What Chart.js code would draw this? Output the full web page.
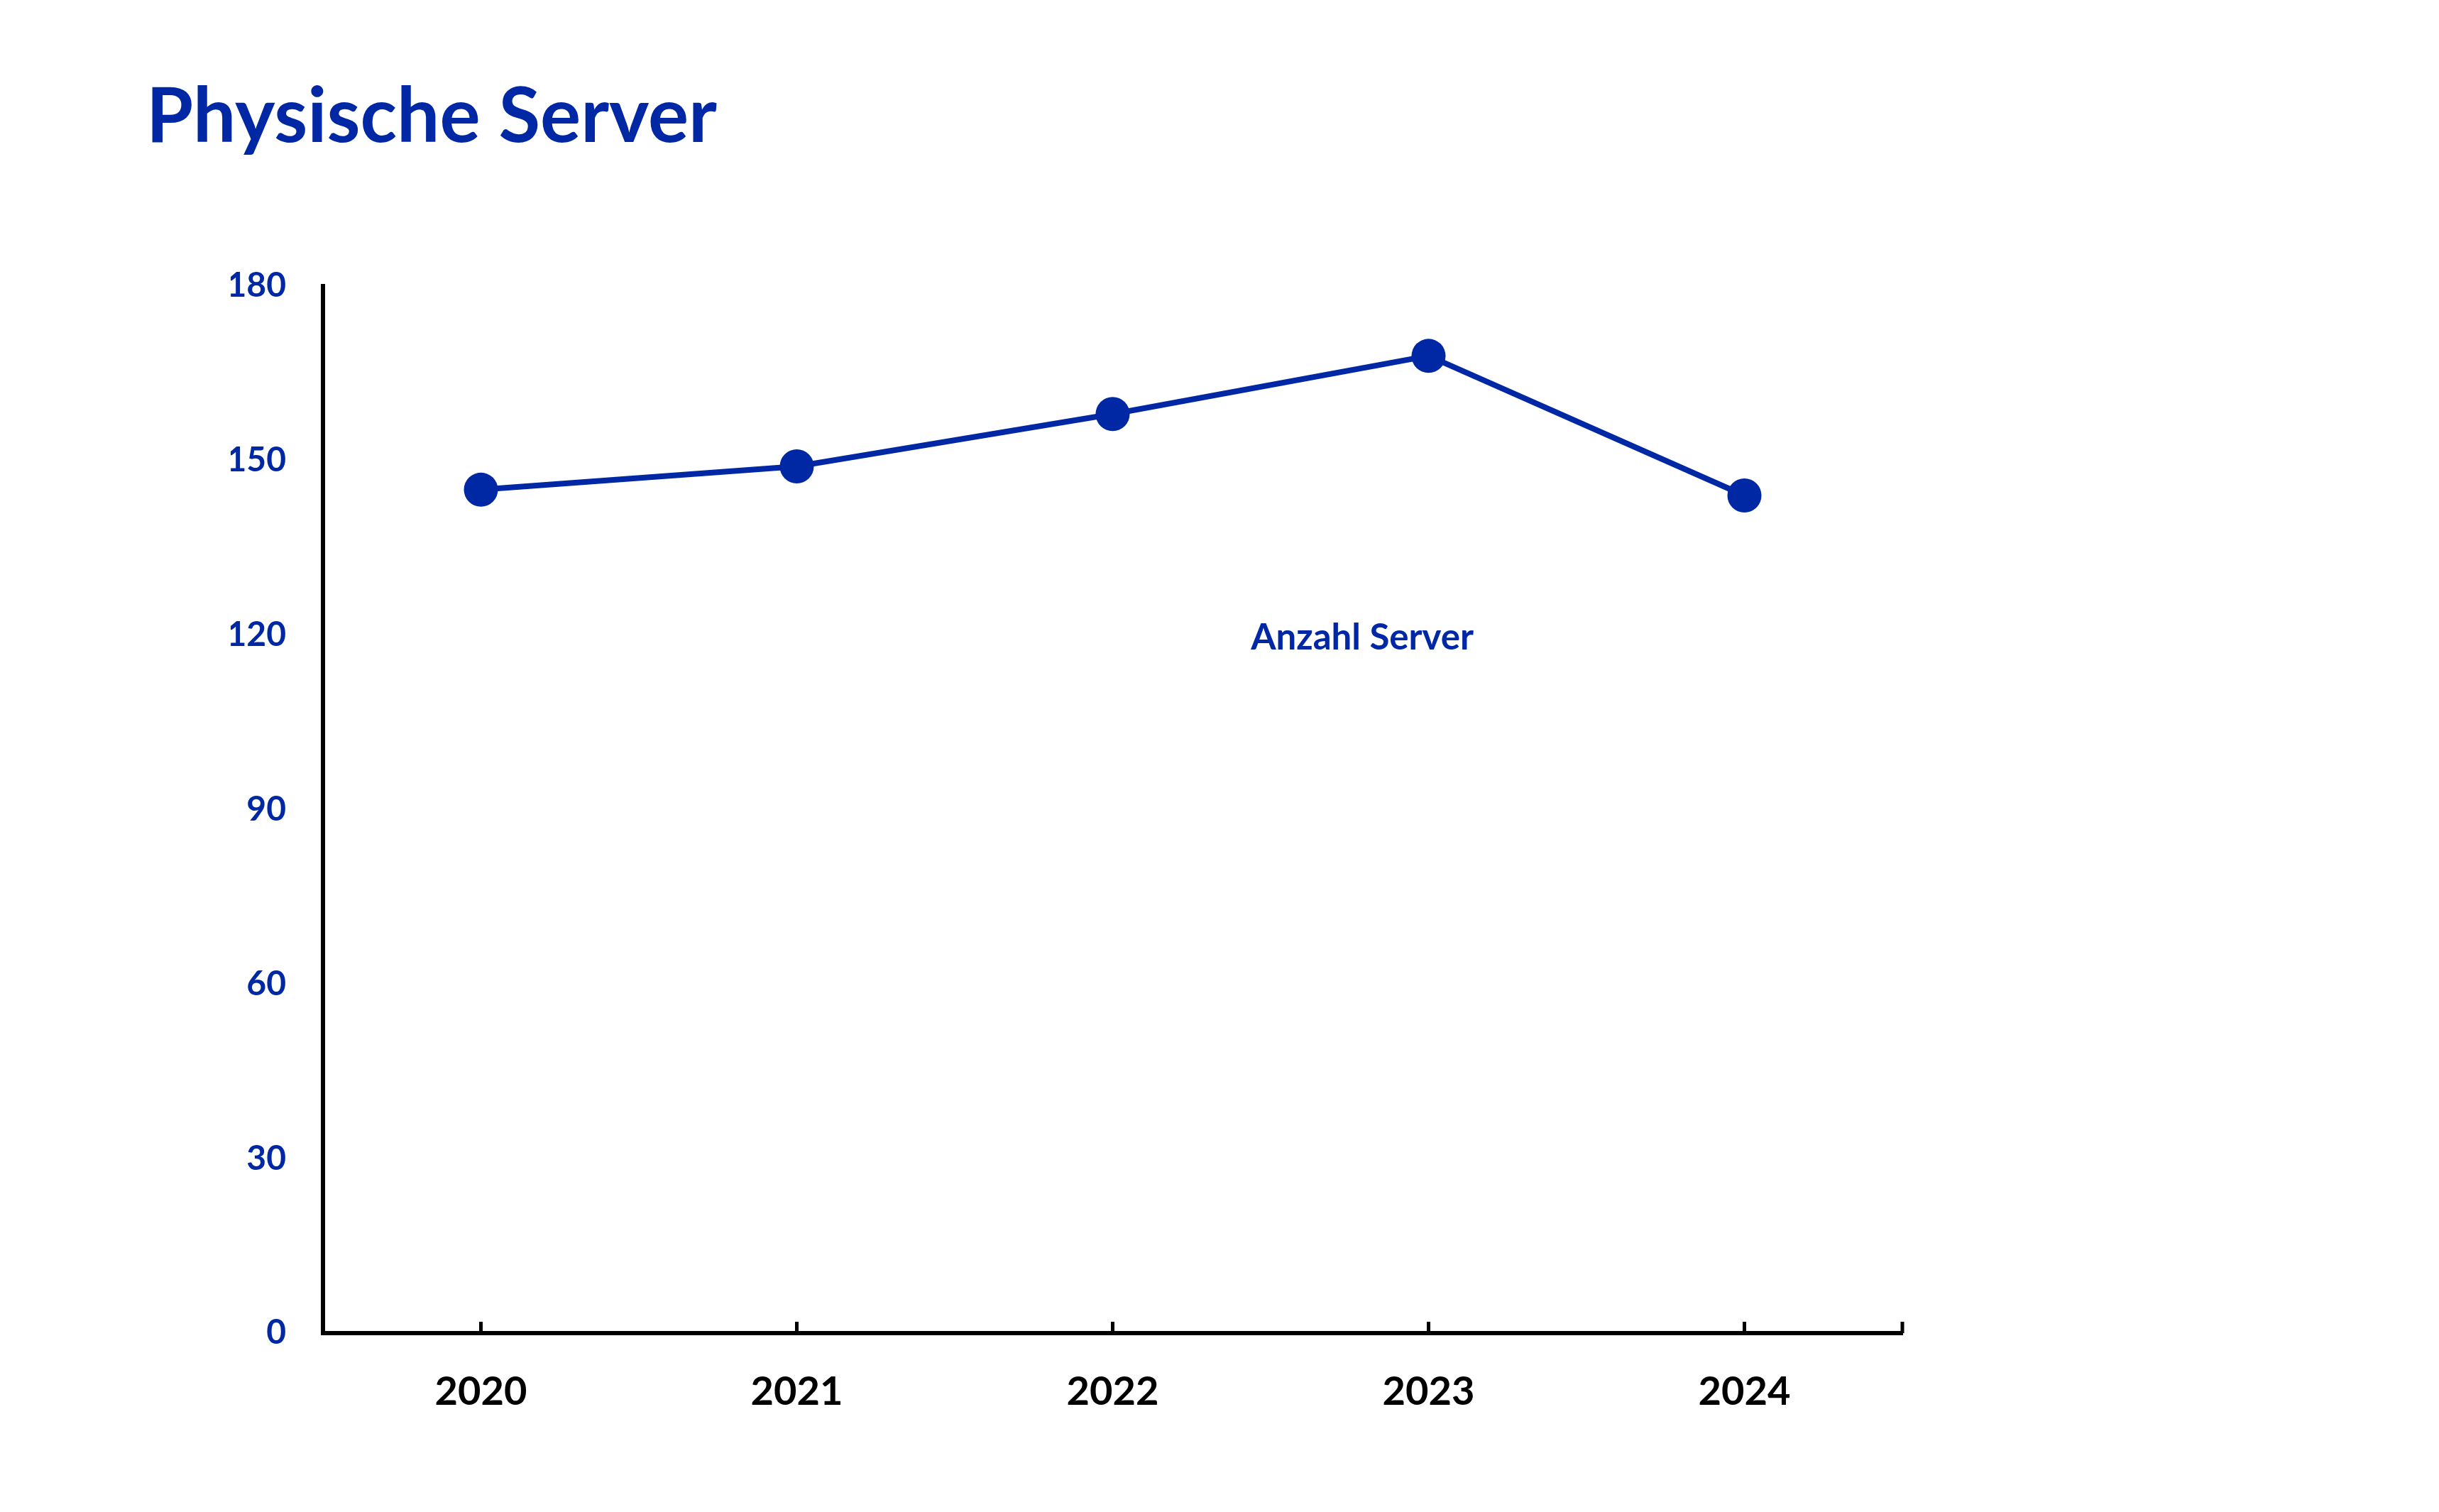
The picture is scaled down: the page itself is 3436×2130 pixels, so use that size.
<!DOCTYPE html>
<html>
<head>
<meta charset="utf-8">
<script src="https://cdn.jsdelivr.net/npm/chart.js@4.4.1/dist/chart.umd.min.js"></script>
<style>
    html, body { margin: 0; padding: 0; background: #fff; }
    #wrap { position: relative; width: 3436px; height: 2130px; }
    #title {
        position: absolute; left: 206px; top: 95px; margin: 0;
        font-family: Lato, sans-serif; font-weight: bold; font-size: 107px;
        line-height: 1.2; color: #0028A5;
    }
    #serverChart { position: absolute; left: 0; top: 0; }
</style>
</head>
<body>
<div id="wrap">
    <h1 id="title">Physische Server</h1>
    <canvas id="serverChart" width="3436" height="2130"></canvas>
</div>
<script>
const years = ['2020', '2021', '2022', '2023', '2024'];
const serverCounts = [145, 149, 158, 168, 144];
const seriesName = 'Anzahl Server';
const yTicks = [0, 30, 60, 90, 120, 150, 180];

const blue = '#0028A5';

// small upward tick marks on the x axis, like the original
const innerTicks = {
    id: 'innerTicks',
    afterDraw(chart) {
        let ctx = chart.ctx;
        let x = chart.scales.x;
        let area = chart.chartArea;
        let positions = x.ticks.map((t, i) => x.getPixelForTick(i));
        positions.push(area.right);
        ctx.save();
        ctx.strokeStyle = '#000';
        ctx.lineWidth = 5;
        positions.forEach(px => {
            ctx.beginPath();
            ctx.moveTo(px, area.bottom);
            ctx.lineTo(px, area.bottom - 16);
            ctx.stroke();
        });
        ctx.restore();
    }
};

// series name written inside the plot
const seriesLabel = {
    id: 'seriesLabel',
    afterDatasetsDraw(chart) {
        let ctx = chart.ctx;
        let px = chart.scales.x.getPixelForValue(2.79);
        let py = chart.scales.y.getPixelForValue(119.5);
        ctx.save();
        ctx.font = 'bold 51px Lato';
        ctx.fillStyle = blue;
        ctx.textAlign = 'center';
        ctx.textBaseline = 'middle';
        ctx.fillText(chart.data.datasets[0].label, px, py);
        ctx.restore();
    }
};

let ctx = document.getElementById('serverChart').getContext('2d');
new Chart(ctx, {
    type: 'line',
    data: {
        labels: years,
        datasets: [{
            label: seriesName,
            data: serverCounts,
            borderColor: blue,
            backgroundColor: blue,
            borderWidth: 8,
            pointRadius: 24,
            pointHoverRadius: 24,
            pointBorderWidth: 0,
            pointBackgroundColor: blue,
            tension: 0
        }]
    },
    options: {
        responsive: false,
        animation: false,
        layout: {
            padding: { left: 325, right: 756, top: 403, bottom: 122 }
        },
        plugins: {
            legend: { display: false },
            tooltip: { enabled: false }
        },
        scales: {
            x: {
                offset: true,
                grid: { display: false, drawTicks: false },
                border: { display: true, color: '#000', width: 6 },
                ticks: {
                    color: '#000',
                    font: { family: 'Lato', weight: 'bold', size: 56 },
                    padding: 49,
                    maxRotation: 0
                },
                afterFit(scale) { scale.height = 130; }
            },
            y: {
                min: yTicks[0],
                max: yTicks[yTicks.length - 1],
                grid: { display: false, drawTicks: false },
                border: { display: true, color: '#000', width: 6 },
                afterBuildTicks(scale) {
                    scale.ticks = yTicks.map(v => ({ value: v }));
                },
                ticks: {
                    color: blue,
                    font: { family: 'Lato', weight: 'bold', size: 48 },
                    padding: 52
                },
                afterFit(scale) { scale.width = 130; }
            }
        }
    },
    plugins: [innerTicks, seriesLabel]
});
</script>
</body>
</html>
